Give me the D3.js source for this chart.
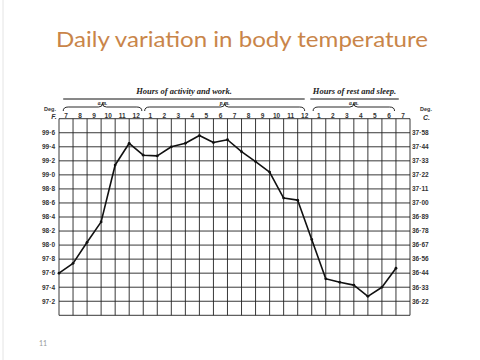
<!DOCTYPE html>
<html>
<head>
<meta charset="utf-8">
<title>Daily variation in body temperature</title>
<script src="https://cdn.jsdelivr.net/npm/d3@7"></script>
<style>
body, html { margin: 0; background: #fff; }
svg { display: block; }
.grid line { stroke: #222; stroke-width: 0.9px; }
.tick-lab { font-family: "Liberation Sans", Arial, sans-serif; font-weight: bold; font-size: 6.5px; fill: #333; }
.head { font-family: "Liberation Serif", serif; font-style: italic; font-weight: bold; font-size: 8.5px; fill: #222; }
</style>
</head>
<body>
<script>
// hour labels, one per column (7 a.m. to 7 a.m.)
var hourLabels = ["7","8","9","10","11","12","1","2","3","4","5","6","7","8","9","10","11","12","1","2","3","4","5","6","7"];
// Fahrenheit rows and their Celsius equivalents
var fahrenheit = [99.6, 99.4, 99.2, 99.0, 98.8, 98.6, 98.4, 98.2, 98.0, 97.8, 97.6, 97.4, 97.2];
var fLabels = ["99·6","99·4","99·2","99·0","98·8","98·6","98·4","98·2","98·0","97·8","97·6","97·4","97·2"];
var cLabels = ["37·58","37·44","37·33","37·22","37·11","37·00","36·89","36·78","36·67","36·56","36·44","36·33","36·22"];
// temperature (deg F) read at each hour line, starting 7 a.m.
var temps = [97.6, 97.74, 98.04, 98.33, 99.14, 99.45, 99.28, 99.27, 99.40, 99.45, 99.56, 99.46, 99.50,
             99.33, 99.19, 99.04, 98.67, 98.64, 98.08, 97.52, 97.47, 97.43, 97.27, 97.40, 97.67];

var W = 480, H = 360;
var svg = d3.select("body").append("svg").attr("width", W).attr("height", H);

// title
svg.append("text")
  .attr("x", 242).attr("y", 47)
  .attr("text-anchor", "middle")
  .attr("textLength", 372)
  .attr("lengthAdjust", "spacingAndGlyphs")
  .style("font-family", "Lato, 'Open Sans', sans-serif")
  .style("font-size", "21px")
  .style("fill", "#c98549")
  .text("Daily variation in body temperature");

// slide number + faint frame line
svg.append("text").attr("x", 43).attr("y", 346).attr("text-anchor", "middle")
  .style("font-family", "Lato, sans-serif").style("font-size", "7px").style("fill", "#999").text("11");
svg.append("line").attr("x1", 3).attr("x2", 3).attr("y1", 0).attr("y2", H)
  .style("stroke", "#e4e4e4").style("stroke-width", 1);

var x = d3.scaleLinear().domain([0, 25]).range([59, 410]);
var y = d3.scaleLinear().domain([97.0, 99.8]).range([315.3, 118.7]);

var grid = svg.append("g").attr("class", "grid");
grid.selectAll("line.v")
  .data(d3.range(26))
  .enter().append("line").attr("class", "v")
  .attr("x1", function(d) { return x(d); }).attr("x2", function(d) { return x(d); })
  .attr("y1", y(99.8)).attr("y2", y(97.0));
grid.selectAll("line.h")
  .data(d3.range(15).map(function(i) { return 97.0 + i * 0.2; }))
  .enter().append("line").attr("class", "h")
  .attr("x1", x(0)).attr("x2", x(25))
  .attr("y1", function(d) { return y(d); }).attr("y2", function(d) { return y(d); });

// hour labels at column centres
svg.selectAll("text.hr")
  .data(hourLabels)
  .enter().append("text").attr("class", "tick-lab hr")
  .attr("x", function(d, i) { return x(i + 0.5); })
  .attr("y", 117.5)
  .attr("text-anchor", "middle")
  .text(function(d) { return d; });

// left F labels
svg.selectAll("text.fl")
  .data(fahrenheit)
  .enter().append("text").attr("class", "tick-lab fl")
  .attr("x", 55).attr("y", function(d) { return y(d) + 2.3; })
  .attr("text-anchor", "end")
  .text(function(d, i) { return fLabels[i]; });

// right C labels
svg.selectAll("text.cl")
  .data(fahrenheit)
  .enter().append("text").attr("class", "tick-lab cl")
  .attr("x", 412).attr("y", function(d) { return y(d) + 2.3; })
  .text(function(d, i) { return cLabels[i]; });

svg.append("text").attr("class", "tick-lab").attr("x", 50).attr("y", 111).attr("text-anchor", "middle")
  .style("font-size", "5.5px").text("Deg.");
svg.append("text").attr("class", "tick-lab").attr("x", 54).attr("y", 119).attr("text-anchor", "middle")
  .style("font-size", "7px").style("font-style", "italic").text("F.");
svg.append("text").attr("class", "tick-lab").attr("x", 426).attr("y", 111).attr("text-anchor", "middle")
  .style("font-size", "5.5px").text("Deg.");
svg.append("text").attr("class", "tick-lab").attr("x", 426.5).attr("y", 120).attr("text-anchor", "middle")
  .style("font-size", "7px").style("font-style", "italic").text("C.");

// header: sections, rules and braces
var sections = [
  { label: "Hours of activity and work.", from: 0.3, to: 17.5 },
  { label: "Hours of rest and sleep.", from: 17.9, to: 24.2 }
];
sections.forEach(function(s) {
  svg.append("text").attr("class", "head")
    .attr("x", (x(s.from) + x(s.to)) / 2).attr("y", 94)
    .attr("text-anchor", "middle").text(s.label);
  svg.append("line")
    .attr("x1", x(s.from)).attr("x2", x(s.to)).attr("y1", 99).attr("y2", 99)
    .style("stroke", "#111").style("stroke-width", 1);
});

var braces = [
  { label: "a.m.", from: 0.3, to: 5.9 },
  { label: "p.m.", from: 6.1, to: 17.5 },
  { label: "a.m.", from: 18.1, to: 23.9 }
];
braces.forEach(function(b) {
  var x0 = x(b.from), x1 = x(b.to), xm = (x0 + x1) / 2;
  var p = d3.path();
  p.moveTo(x0, 111);
  p.quadraticCurveTo(x0, 107, x0 + 5, 107);
  p.lineTo(xm - 4, 107);
  p.quadraticCurveTo(xm, 107, xm, 103.5);
  p.quadraticCurveTo(xm, 107, xm + 4, 107);
  p.lineTo(x1 - 5, 107);
  p.quadraticCurveTo(x1, 107, x1, 111);
  svg.append("path").attr("d", p.toString())
    .style("fill", "none").style("stroke", "#111").style("stroke-width", 0.9);
  svg.append("text").attr("class", "head")
    .attr("x", xm).attr("y", 104.5).attr("text-anchor", "middle")
    .style("font-size", "5.5px").text(b.label);
});

// temperature curve
var line = d3.line()
  .x(function(d, i) { return x(i); })
  .y(function(d) { return y(d); });

svg.append("path")
  .datum(temps)
  .attr("d", line)
  .style("fill", "none").style("stroke", "#111").style("stroke-width", 1.6)
  .style("stroke-linejoin", "round");

svg.selectAll("circle.pt")
  .data(temps)
  .enter().append("circle").attr("class", "pt")
  .attr("cx", function(d, i) { return x(i); })
  .attr("cy", function(d) { return y(d); })
  .attr("r", 1.4).style("fill", "#111");
</script>
</body>
</html>
